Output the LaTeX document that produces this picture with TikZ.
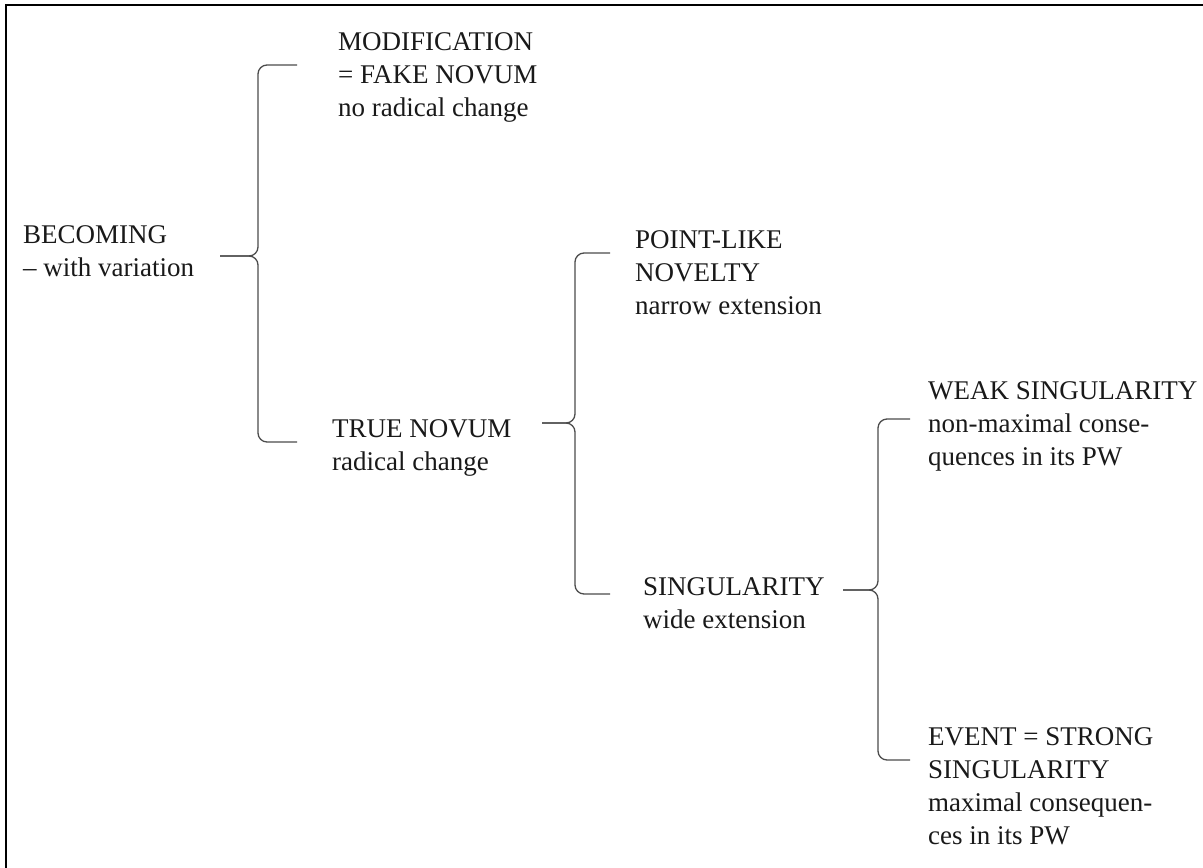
\documentclass[tikz,border=0pt]{standalone}
\usepackage{fontspec}
\setmainfont{Liberation Serif}
\usepackage{tikz}
\usetikzlibrary{positioning,calc}

\begin{document}
\begin{tikzpicture}[x=1pt,y=-1pt,
        term/.style={anchor=north west, align=left, inner sep=0pt, font=\fontsize{27}{33}\selectfont, text=black!90},
        brace/.style={draw=black!70, line width=1.3pt, rounded corners=9pt}]
        \useasboundingbox (0,0) rectangle (1203,868);
        \draw[line width=2.5pt] (6,868) -- (6,5) -- (1203,5);

        % terms
        \node[term] (becoming) at (23,225) {BECOMING\\\textendash{} with variation};
        \node[term] (fake) at (338,32) {MODIFICATION\\= FAKE NOVUM\\no radical change};
        \node[term] (truenovum) at (332,419) {TRUE NOVUM\\radical change};
        \node[term] (pointlike) at (635,230) {POINT-LIKE\\NOVELTY\\narrow extension};
        \node[term] (singular) at (643,577) {SINGULARITY\\wide extension};
        \node[term] (weak) at (928,381) {WEAK SINGULARITY\\non-maximal conse-\\quences in its PW};
        \node[term] (event) at (928,727) {EVENT = STRONG\\SINGULARITY\\maximal consequen-\\ces in its PW};

        % brace points
        \coordinate (tip1) at (220,256);  \coordinate (sp1) at (258,256);
        \coordinate (up1) at (297,65);    \coordinate (low1) at (297,442);
        \coordinate (tip2) at (542,423);  \coordinate (sp2) at (575,423);
        \coordinate (up2) at (610,253);   \coordinate (low2) at (610,594);
        \coordinate (tip3) at (843,590);  \coordinate (sp3) at (878,590);
        \coordinate (up3) at (910,419);   \coordinate (low3) at (910,760);

        % braces
        \foreach \i in {1,2,3} {
            \draw[brace] (up\i) -- (up\i -| sp\i) -- (sp\i) -- (tip\i);
            \draw[brace] (tip\i) -- (sp\i) -- (low\i -| sp\i) -- (low\i);
        }
    \end{tikzpicture}
\end{document}
